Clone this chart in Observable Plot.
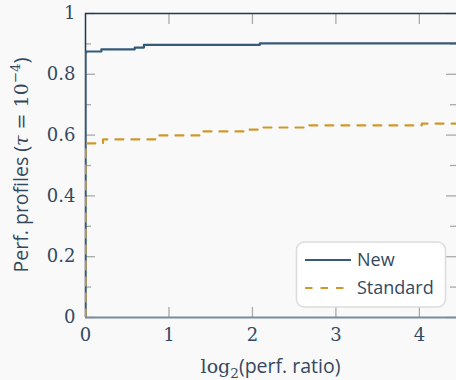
<!DOCTYPE html>
<html><head><meta charset="utf-8">
<script src="https://cdn.jsdelivr.net/npm/d3@7"></script>
<script src="https://cdn.jsdelivr.net/npm/@observablehq/plot@0.6"></script>
<style>html,body{margin:0;padding:0;background:#f9f9f9;} #chart svg{display:block}</style>
</head><body><div id="chart"></div>
<script>
// ---- data ----
const seriesNames = ["New", "Standard"];
const newX = [0, 0, 0.01, 0.19, 0.59, 0.70, 2.09, 4.5];
const newY = [0, 0.872, 0.875, 0.882, 0.888, 0.897, 0.902, 0.902];
const stdX = [0, 0, 0.21, 0.84, 1.40, 1.92, 2.08, 2.64, 4.03, 4.5];
const stdY = [0, 0.573, 0.586, 0.599, 0.612, 0.618, 0.625, 0.632, 0.638, 0.638];
const xTicks = [0, 1, 2, 3, 4];
const xTickLabels = ["0", "1", "2", "3", "4"];
const yTicks = [0, 0.2, 0.4, 0.6, 0.8, 1];
const yTickLabels = ["0", "0.2", "0.4", "0.6", "0.8", "1"];
const yMinor = [0.1, 0.3, 0.5, 0.7, 0.9];

// ---- style ----
const W = 456, H = 380;
const mL = 85, mR = 0, mT = 13, mB = 63;
const plotW = W - mL - mR, plotH = H - mT - mB;
const cNew = "#355a7b", cStd = "#d0982a";
const txt = "#34495e";
const serif = "DejaVu Serif";
const sans = "Open Sans";
const tickC = "#aaaaaa";

const newData = newX.map((x, i) => ({x, y: newY[i]}));
const stdData = stdX.map((x, i) => ({x, y: stdY[i]}));

const plot = Plot.plot({
  width: W, height: H,
  marginLeft: mL, marginRight: mR, marginTop: mT, marginBottom: mB,
  x: {domain: [0, 4.445]},
  y: {domain: [0, 1]},
  style: {background: "#f9f9f9", fontFamily: serif, color: txt},
  marks: [
    Plot.tickY(yTicks, {y: d => d, stroke: tickC, strokeWidth: 1.3, insetRight: plotW - 10}),
    Plot.tickY(yMinor, {y: d => d, stroke: tickC, strokeWidth: 1.3, insetRight: plotW - 6}),
    Plot.tickY(yTicks, {y: d => d, stroke: tickC, strokeWidth: 1.3, insetLeft: plotW - 10}),
    Plot.tickY(yMinor, {y: d => d, stroke: tickC, strokeWidth: 1.3, insetLeft: plotW - 6}),
    Plot.tickX(xTicks.slice(1), {x: d => d, stroke: tickC, strokeWidth: 1.3, insetBottom: plotH - 11}),
    Plot.tickX(xTicks.slice(1), {x: d => d, stroke: tickC, strokeWidth: 1.3, insetTop: plotH - 10}),
    Plot.ruleY([1], {stroke: "#22384f", strokeWidth: 1.5}),
    Plot.ruleX([0], {stroke: "#22384f", strokeWidth: 1.5}),
    Plot.line(newData, {x: "x", y: "y", curve: "step-after", stroke: cNew, strokeWidth: 2.2, clip: true}),
    Plot.line(stdData, {x: "x", y: "y", curve: "step-after", stroke: cStd, strokeWidth: 2.2, strokeDasharray: "8,8", clip: true}),
    Plot.ruleY([0], {stroke: "#7b8c9c", strokeWidth: 2}),
    Plot.axisX({ticks: xTicks, tickFormat: (d, i) => xTickLabels[i], tickSize: 0, tickPadding: 11,
      fontFamily: serif, fontSize: 18, fill: txt, label: null}),
    Plot.axisY({ticks: yTicks, tickFormat: (d, i) => yTickLabels[i], tickSize: 0, tickPadding: 10,
      fontFamily: serif, fontSize: 18, fill: txt, label: null})
  ]
});

document.getElementById("chart").appendChild(plot);

const svg = d3.select(plot);
// y axis title
const yl = svg.append("text")
  .attr("transform", "translate(28,165) rotate(-90)")
  .attr("text-anchor", "middle").attr("fill", txt).attr("font-size", 19.5);
yl.append("tspan").attr("font-family", sans).text("Perf. profiles (");
yl.append("tspan").attr("font-family", serif).attr("font-style", "italic").attr("font-size", 19).text("τ");
yl.append("tspan").attr("font-family", serif).attr("font-size", 19).text(" = 10");
yl.append("tspan").attr("font-family", serif).attr("font-size", 13.5).attr("dy", -8).text("−4");
yl.append("tspan").attr("font-family", sans).attr("dy", 8).text(")");

// x axis title
const xl = svg.append("text")
  .attr("x", mL + plotW / 2).attr("y", 373)
  .attr("text-anchor", "middle").attr("fill", txt).attr("font-size", 19.5);
xl.append("tspan").attr("font-family", serif).attr("font-size", 19).text("log");
xl.append("tspan").attr("font-family", serif).attr("font-size", 13.5).attr("dy", 5).text("2");
xl.append("tspan").attr("font-family", sans).attr("dy", -5).text("(perf. ratio)");

// legend
const lg = svg.append("g");
lg.append("rect").attr("x", 296.5).attr("y", 242).attr("width", 149).attr("height", 65)
  .attr("rx", 8).attr("fill", "#ffffff").attr("stroke", "#dcdcdc").attr("stroke-width", 1.5);
const items = [
  {name: seriesNames[0], color: cNew, dash: "none", y: 260},
  {name: seriesNames[1], color: cStd, dash: "7.5,8", y: 288}
];
items.forEach(it => {
  lg.append("line").attr("x1", 305).attr("x2", 351).attr("y1", it.y).attr("y2", it.y)
    .attr("stroke", it.color).attr("stroke-width", 2).attr("stroke-dasharray", it.dash);
  lg.append("text").attr("x", 357).attr("y", it.y + 6).attr("text-anchor", "start")
    .attr("font-family", sans).attr("font-size", 18).attr("fill", txt).text(it.name);
});
</script>
</body></html>
